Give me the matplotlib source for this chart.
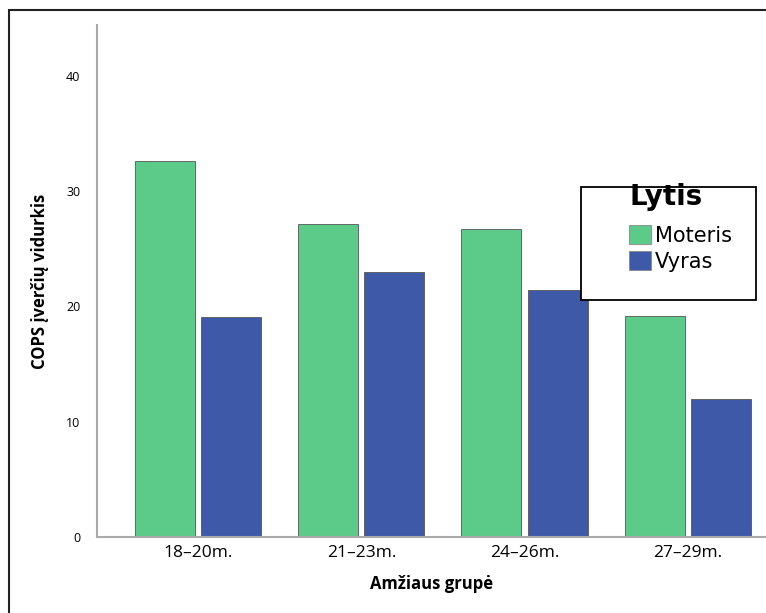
import matplotlib.pyplot as plt
import matplotlib.patches as mpatches
import numpy as np

plt.rcParams['font.family'] = ['Open Sans', 'DejaVu Sans']

groups = ['18–20m.', '21–23m.', '24–26m.', '27–29m.']
moteris = [32.6, 27.1, 26.7, 19.2]
vyras = [19.1, 23.0, 21.4, 12.0]
green = '#5ccb8a'
blue = '#3d59a8'

fig = plt.figure(figsize=(7.66, 6.13), dpi=100)
ax = fig.add_axes([97 / 766, 76 / 613, 1 - 97 / 766, (537 - 25) / 613])

x = np.arange(len(groups))
w = 0.368
off = 0.2025
ax.bar(x - off, moteris, w, color=green, edgecolor='#555555', linewidth=0.6, label='Moteris')
ax.bar(x + off, vyras, w, color=blue, edgecolor='#555555', linewidth=0.6, label='Vyras')

ax.set_xlim(-0.62, 3.48)
ax.set_ylim(0, 44.4)
ax.set_yticks([0, 10, 20, 30, 40])
ax.set_xticks(x)
ax.set_xticklabels(groups, fontsize=12.5)
ax.tick_params(axis='y', length=0, pad=12, labelsize=9)
ax.tick_params(axis='x', length=0, pad=6)
for s in ['top', 'right']:
    ax.spines[s].set_visible(False)
for s in ['left', 'bottom']:
    ax.spines[s].set_color('#aaaaaa')
    ax.spines[s].set_linewidth(1.5)

ax.set_ylabel('COPS įverčių vidurkis', fontsize=12, fontweight='bold', labelpad=12)
ax.set_xlabel('Amžiaus grupė', fontsize=12, fontweight='bold', labelpad=10)

# legend box
box = mpatches.Rectangle((581 / 766, 1 - 300 / 613), 175 / 766, 113 / 613,
                         transform=fig.transFigure, facecolor='white',
                         edgecolor='black', linewidth=1.3, zorder=4, clip_on=False)
ax.add_patch(box)
leg = ax.legend(title='Lytis', loc='upper left', bbox_to_anchor=(629 / 766, 1 - 183 / 613),
                bbox_transform=fig.transFigure, frameon=False,
                prop={'family': 'DejaVu Sans', 'size': 15},
                handlelength=1.05, handleheight=1.05, handletextpad=0.2, borderpad=0,
                labelspacing=0.25, borderaxespad=0, alignment='left')
leg.get_title().set_fontsize(20)
leg.get_title().set_fontweight('bold')
leg.get_title().set_family('DejaVu Sans')
leg._legend_box.sep = 10
leg.set_zorder(6)
for p in leg.get_patches():
    p.set_edgecolor('#888888')
    p.set_linewidth(0.6)

# outer frame
fig.patches.append(mpatches.Rectangle((9 / 766, -0.1), 1.2, 1 - 10 / 613 + 0.1,
                                      transform=fig.transFigure, fill=False,
                                      edgecolor='#222222', linewidth=1.5))

fig.savefig('out.png', dpi=100)
